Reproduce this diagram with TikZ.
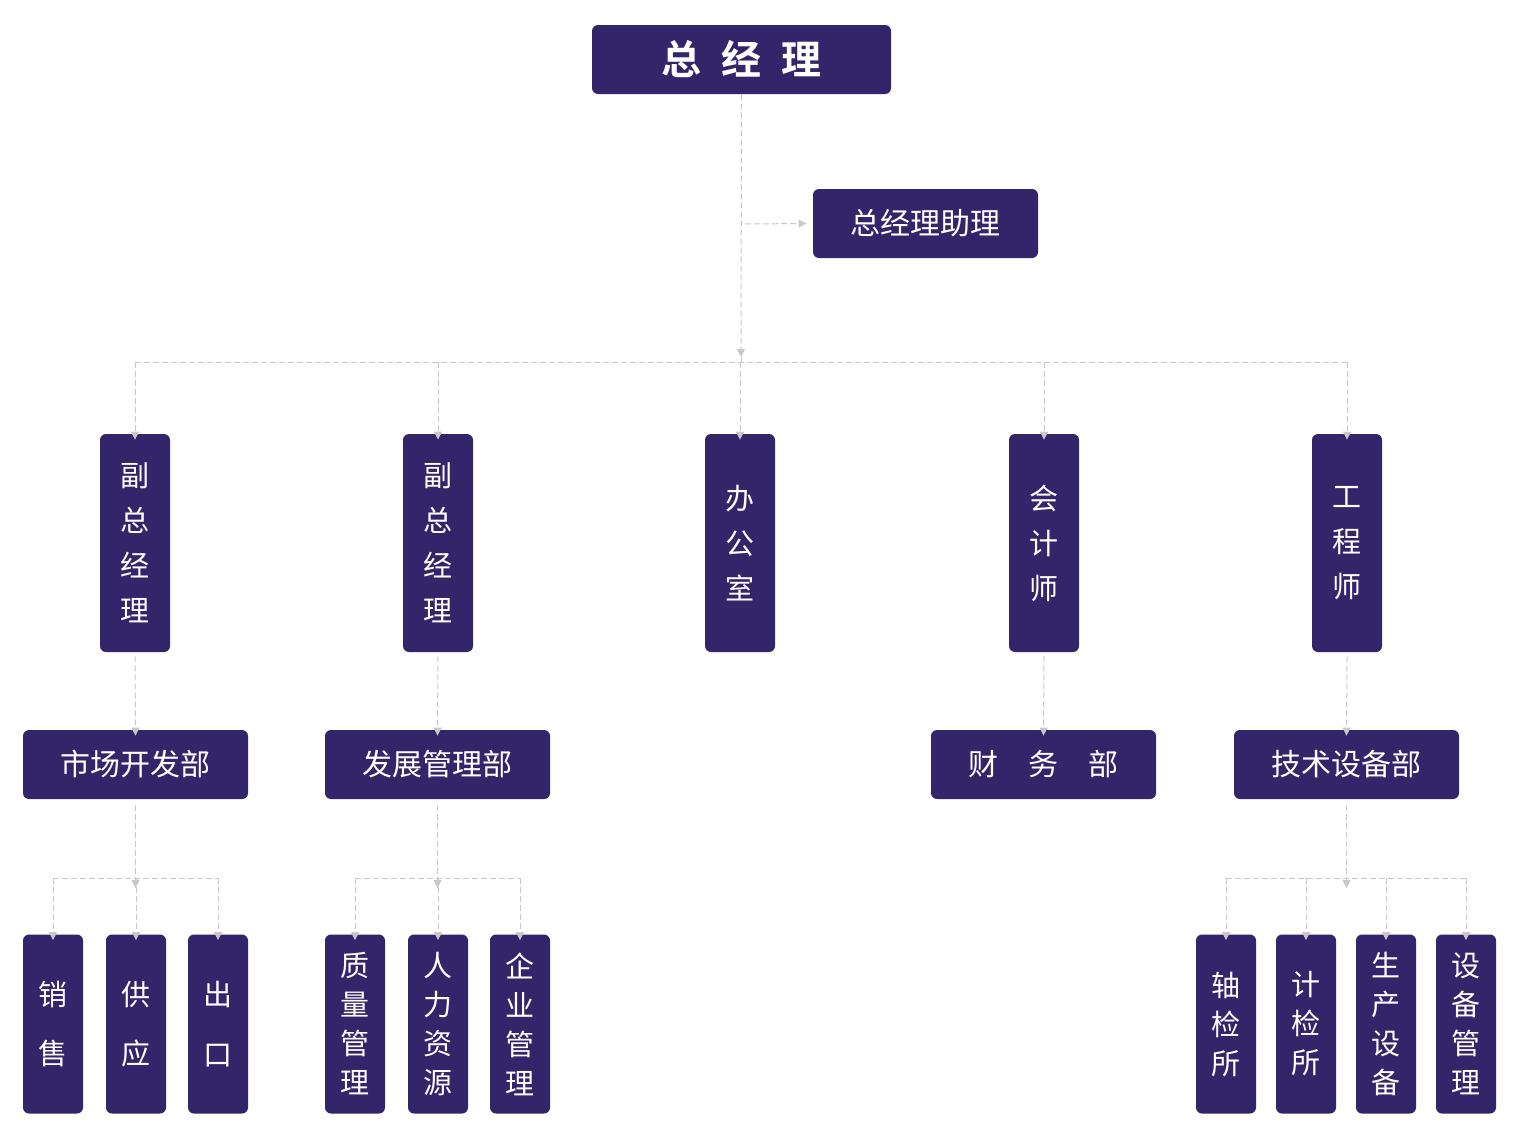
\documentclass[tikz,border=0pt]{standalone}
\usepackage{fontspec}
\setmainfont{Noto Sans CJK SC}
\newfontfamily\cjkbold{Noto Sans CJK SC Bold}
\usetikzlibrary{arrows.meta}
\definecolor{boxc}{HTML}{33256A}
\definecolor{linec}{HTML}{C8C8C8}
\begin{document}
\begin{tikzpicture}[x=0.5pt,y=-0.5pt,
  box/.style={fill=boxc,rounded corners=3pt,text=white,inner sep=0pt,align=center},
  hbox/.style={box,minimum width=112.5pt,minimum height=34.5pt,font=\fontsize{15}{18}\selectfont},
  vbox/.style={box,minimum width=35pt,minimum height=109pt,font=\fontsize{14.5}{22.5}\selectfont},
  sbox/.style={box,minimum width=30pt,minimum height=89.5pt,font=\fontsize{14.5}{19.5}\selectfont},
  conn/.style={draw=linec,dashed,dash pattern=on 3pt off 1.5pt,line width=0.5pt},
  arr/.style={conn,-{Triangle[length=4pt,width=4pt]}}]
\useasboundingbox (0,0) rectangle (1520,1140);
\node[box,minimum width=149.5pt,minimum height=34.5pt,font=\cjkbold\fontsize{20}{24}\selectfont] (gm) at (741.5,59.5) {总\hspace{0.5em}经\hspace{0.5em}理};
\node[hbox] (as) at (925.5,223.5) {总经理助理};
\node[vbox] (v1) at (135,543) {副\\总\\经\\理};
\node[vbox] (v2) at (438,543) {副\\总\\经\\理};
\node[vbox] (v3) at (740,543) {办\\公\\室};
\node[vbox] (v4) at (1044,543) {会\\计\\师};
\node[vbox] (v5) at (1347,543) {工\\程\\师};
\node[hbox] (d1) at (135.5,764.5) {市场开发部};
\node[hbox] (d2) at (437.5,764.5) {发展管理部};
\node[hbox] (d3) at (1043.5,764.5) {财\hspace{1em}务\hspace{1em}部};
\node[hbox] (d4) at (1346.5,764.5) {技术设备部};
\foreach \n/\x/\t in {s1/53/销\\[0.7em]售, s2/136/供\\[0.7em]应, s3/218/出\\[0.7em]口,
  s4/355/质\\量\\管\\理, s5/438/人\\力\\资\\源, s6/520/企\\业\\管\\理,
  s7/1226/轴\\检\\所, s8/1306/计\\检\\所, s9/1386/生\\产\\设\\备, s10/1466/设\\备\\管\\理}
  \node[sbox] (\n) at (\x,1024) {\t};
% top
\coordinate (hy) at (741,362);
\draw[arr] (gm.south) -- (741,357);
\draw[conn] (741,357) -- (hy);
\draw[arr] (745,224) -- ([xshift=-3pt]as.west);
\draw[conn] (v1.north |- hy) -- (v5.north |- hy);
\foreach \v in {v1,v2,v3,v4,v5} \draw[arr] (\v.north |- hy) -- ([yshift=-3pt]\v.north);
\foreach \v/\d in {v1/d1,v2/d2,v4/d3,v5/d4} \draw[arr] ([yshift=-2pt]\v.south) -- ([yshift=-3pt]\d.north);
% lower
\foreach \d/\a/\b/\list in {d1/s1/s3/{s1,s2,s3}, d2/s4/s6/{s4,s5,s6}, d4/s7/s10/{s7,s8,s9,s10}}{
  \draw[arr] ([yshift=-3pt]\d.south) -- ([yshift=-5pt]\d.south |- 0,878);
  \draw[conn] ([yshift=-5pt]\d.south |- 0,878) -- (\d.south |- 0,878);
  \draw[conn] (\a.north |- 0,878) -- (\b.north |- 0,878);
  \foreach \s in \list \draw[arr] (\s.north |- 0,878) -- ([yshift=-3pt]\s.north);
}
\end{tikzpicture}
\end{document}
